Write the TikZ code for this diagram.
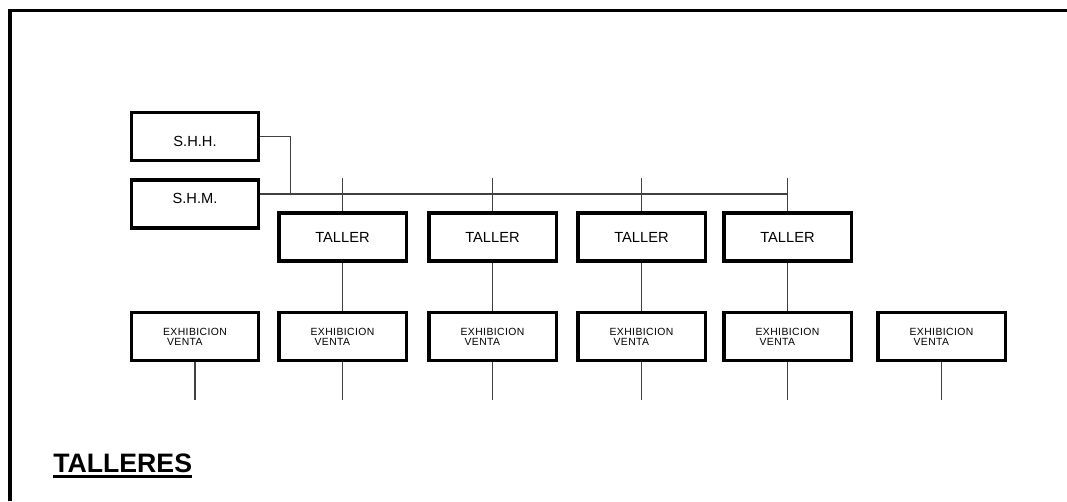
\documentclass[tikz,border=0pt]{standalone}
\usepackage{fontspec}
\setmainfont{Liberation Sans}
\usetikzlibrary{positioning,calc}
\newcommand{\subrayado}[1]{\setbox0\hbox{#1}\rlap{\rule[-4.5pt]{\wd0}{2pt}}\box0}

\begin{document}
\begin{tikzpicture}[x=0.75pt,y=-0.75pt,
    caja/.style={draw, line width=2.3pt, minimum width=95.3pt, minimum height=36pt, inner sep=0pt, font=\fontsize{11}{13}\selectfont},
    expo/.style={caja, font=\fontsize{7.8}{7.5}\selectfont\addfontfeatures{LetterSpace=4}, align=left},
    linea/.style={line width=0.8pt, black!75}]
  \useasboundingbox (0,0) rectangle (1067,501);
  \draw[line width=2.6pt] (10,501) -- (10,10.5) -- (1067,10.5);
  % servicios higienicos
  \node[caja, text height=14.7pt, text depth=0pt] (shh) at (195,136.5) {S.H.H.};
  \node[caja, text height=8pt, text depth=9.1pt] (shm) at (195,204) {S.H.M.};
  \coordinate (nudo) at (290.7,194);
  \coordinate (fin) at (788,194);
  \draw[linea] (shh.east) -| (nudo);
  \draw[linea] (shm.east |- nudo) -- (fin);
  % talleres
  \foreach \n/\x in {1/342.5, 2/492.5, 3/641.5, 4/787.5} {
    \node[caja] (tal\n) at (\x,237) {TALLER};
    \coordinate (top\n) at (\x,178);
    \draw[linea] (top\n) -- (tal\n);
  }
  % exhibicion y venta
  \foreach \n/\x in {0/195, 1/342.5, 2/492.5, 3/641.5, 4/787.5, 5/941.5} {
    \node[expo] (exh\n) at (\x,336.5) {EXHIBICION\\\hspace*{3pt}VENTA};
    \coordinate (pie\n) at (\x,400);
    \draw[linea] (exh\n) -- (pie\n);
  }
  \foreach \n in {1,...,4}
    \draw[linea] (tal\n) -- (exh\n);
  \node[anchor=base west, inner sep=0pt, font=\bfseries\fontsize{20}{24}\selectfont] (titulo) at (53,472) {\subrayado{TALLERES}};
\end{tikzpicture}
\end{document}
